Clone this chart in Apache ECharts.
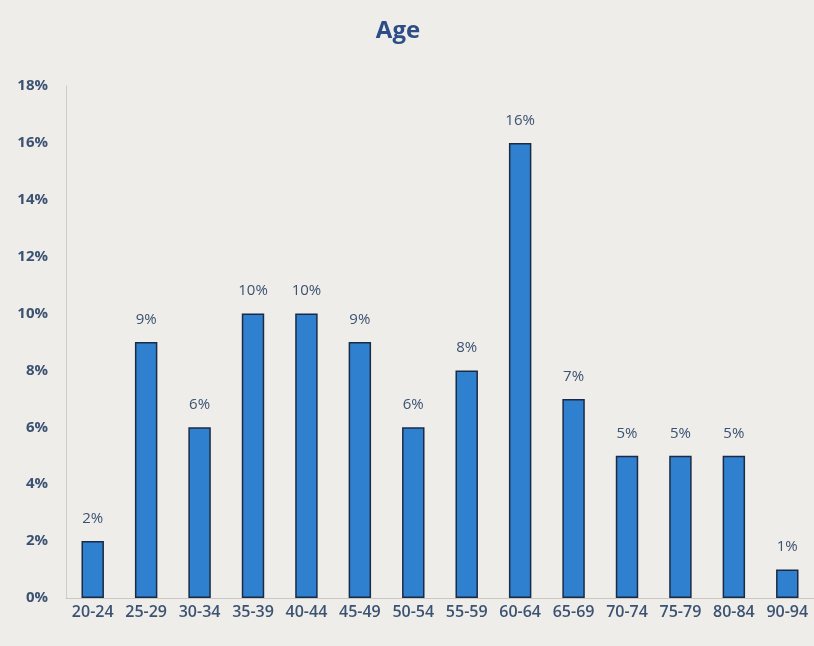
<!DOCTYPE html>
<html>
<head>
<meta charset="utf-8">
<script src="https://cdn.jsdelivr.net/npm/echarts@6/dist/echarts.min.js"></script>
<style>
html,body{margin:0;padding:0;background:#efede9;}
#c{width:814px;height:646px;}
</style>
</head>
<body>
<div id="c"></div>
<script>
const categories = ['20-24','25-29','30-34','35-39','40-44','45-49','50-54','55-59','60-64','65-69','70-74','75-79','80-84','90-94'];
const values = [2, 9, 6, 10, 10, 9, 6, 8, 16, 7, 5, 5, 5, 1];
const yTicks = [0, 2, 4, 6, 8, 10, 12, 14, 16, 18];

const chart = echarts.init(document.getElementById('c'));
const textColor = '#3b5272';
chart.setOption({
  backgroundColor: '#efede9',
  animation: false,
  title: {
    text: 'Age',
    left: 393,
    textAlign: 'center',
    top: 14,
    textStyle: {color: '#2d4d86', fontSize: 24, fontWeight: 'bold', fontFamily: 'Open Sans'}
  },
  grid: {left: 66, right: 0, top: 86, bottom: 48},
  xAxis: {
    type: 'category',
    data: categories,
    axisLine: {show: true, lineStyle: {color: '#c9c7c3', width: 1}},
    axisTick: {show: false},
    axisLabel: {color: textColor, fontSize: 16, fontFamily: 'Open Sans', fontWeight: 600, margin: 6, interval: 0}
  },
  yAxis: {
    type: 'value',
    min: 0,
    max: yTicks[yTicks.length - 1],
    interval: 2,
    axisLine: {show: true, lineStyle: {color: '#cfcdc9'}},
    axisTick: {show: false},
    splitLine: {show: false},
    axisLabel: {color: textColor, fontSize: 15, fontFamily: 'Open Sans', fontWeight: 'bold', margin: 18, formatter: v => v + '%'}
  },
  series: [{
    type: 'bar',
    data: values,
    barWidth: '42%',
    itemStyle: {color: '#2f80cf', borderColor: '#1b2b45', borderWidth: 1.5},
    label: {
      show: true,
      position: 'top',
      distance: 15,
      color: textColor,
      fontSize: 15,
      fontFamily: 'Open Sans',
      formatter: p => p.value + '%'
    }
  }]
});
</script>
</body>
</html>
